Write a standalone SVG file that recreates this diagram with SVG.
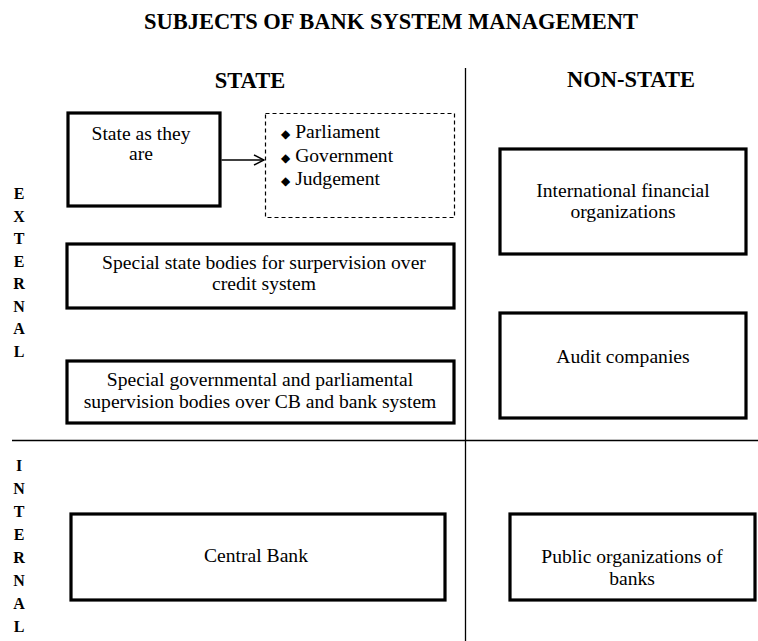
<svg xmlns="http://www.w3.org/2000/svg" width="758" height="641" viewBox="0 0 758 641">
<style>
text{font-family:"Liberation Serif","Times New Roman",serif;fill:#000}
.h{font-size:22.5px;font-weight:bold;text-anchor:middle}
.t{font-size:19.6px;text-anchor:middle}
.l{font-size:19.6px}
.v{font-size:16px;font-weight:bold;text-anchor:middle}
.box{fill:#fff;stroke:#000;stroke-width:3.2}
.dash{fill:#fff;stroke:#000;stroke-width:1.2;stroke-dasharray:4 3}
.rule{stroke:#000;stroke-width:1.3;fill:none}
.dm{font-family:"DejaVu Sans",sans-serif;font-size:12px}
</style>
<defs>
<marker id="arr" markerWidth="12" markerHeight="12" refX="11" refY="6" orient="auto" markerUnits="userSpaceOnUse">
<path d="M1,1 L11,6 L1,11" fill="none" stroke="#000" stroke-width="1.4"/>
</marker>
</defs>
<rect width="758" height="641" fill="#fff"/>
<g id="frame">
<line class="rule" x1="465.5" y1="68" x2="465.5" y2="641"/>
<line class="rule" x1="12" y1="440.5" x2="758" y2="440.5"/>
</g>
<g id="headers">
<text class="h" x="391" y="29">SUBJECTS OF BANK SYSTEM MANAGEMENT</text>
<text class="h" x="250" y="88">STATE</text>
<text class="h" x="631" y="87">NON-STATE</text>
</g>
<g id="external-label">
<text class="v" x="19" y="199">E</text>
<text class="v" x="19" y="221.5">X</text>
<text class="v" x="19" y="244">T</text>
<text class="v" x="19" y="266.5">E</text>
<text class="v" x="19" y="289">R</text>
<text class="v" x="19" y="311.5">N</text>
<text class="v" x="19" y="334">A</text>
<text class="v" x="19" y="356.5">L</text>
</g>
<g id="internal-label">
<text class="v" x="19" y="471">I</text>
<text class="v" x="19" y="494">N</text>
<text class="v" x="19" y="517">T</text>
<text class="v" x="19" y="540">E</text>
<text class="v" x="19" y="563">R</text>
<text class="v" x="19" y="586">N</text>
<text class="v" x="19" y="609">A</text>
<text class="v" x="19" y="632">L</text>
</g>
<g id="state-as-they-are">
<rect class="box" x="68" y="113" width="152" height="93"/>
<text class="t" x="141" y="140">State as they</text>
<text class="t" x="141" y="160">are</text>
</g>
<g id="state-branches">
<rect class="dash" x="265.5" y="113.5" width="189" height="104"/>
<text class="l" x="281" y="138"><tspan class="dm">◆</tspan> Parliament</text>
<text class="l" x="281" y="162"><tspan class="dm">◆</tspan> Government</text>
<text class="l" x="281" y="185"><tspan class="dm">◆</tspan> Judgement</text>
</g>
<g id="special-state-bodies">
<rect class="box" x="67" y="244" width="387" height="64"/>
<text class="t" x="264" y="269">Special state bodies for surpervision over</text>
<text class="t" x="264" y="290">credit system</text>
</g>
<g id="special-governmental">
<rect class="box" x="67" y="361" width="387" height="62"/>
<text class="t" x="260" y="386">Special governmental and parliamental</text>
<text class="t" x="260" y="408">supervision bodies over CB and bank system</text>
</g>
<g id="international">
<rect class="box" x="500" y="149" width="246" height="105"/>
<text class="t" x="623" y="197">International financial</text>
<text class="t" x="623" y="218">organizations</text>
</g>
<g id="audit">
<rect class="box" x="500" y="313" width="246" height="105"/>
<text class="t" x="623" y="363">Audit companies</text>
</g>
<g id="central-bank">
<rect class="box" x="71" y="514" width="374" height="86"/>
<text class="t" x="256" y="562">Central Bank</text>
</g>
<g id="public-organizations">
<rect class="box" x="510" y="514" width="245" height="86"/>
<text class="t" x="632" y="563">Public organizations of</text>
<text class="t" x="632" y="585">banks</text>
</g>
<g id="connectors">
<line x1="221.5" y1="160" x2="264" y2="160" stroke="#000" stroke-width="1.4" marker-end="url(#arr)"/>
</g>
</svg>
